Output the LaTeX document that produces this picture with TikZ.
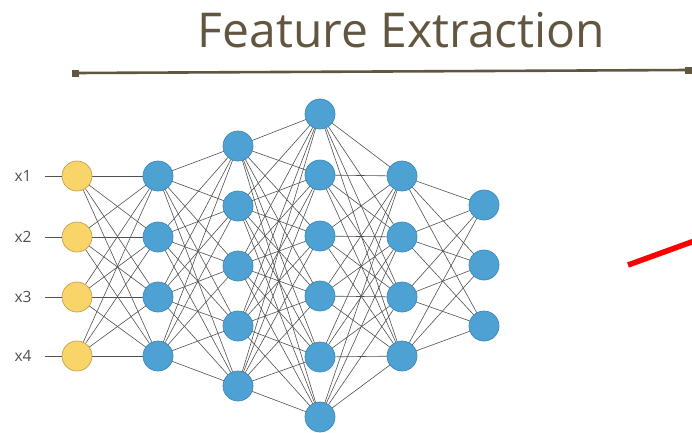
\documentclass[tikz,border=0pt]{standalone}
\usepackage{fontspec}
\setmainfont{Open Sans}
\usetikzlibrary{backgrounds}
\definecolor{titlebrown}{HTML}{625640}
\definecolor{inyellow}{HTML}{F9D468}
\definecolor{inyellowline}{HTML}{C4A152}
\definecolor{hidblue}{HTML}{4DA2D3}
\definecolor{hidblueline}{HTML}{3E8ABB}
\definecolor{edgegray}{HTML}{505050}
\definecolor{labelgray}{HTML}{505050}
\begin{document}
\begin{tikzpicture}[x=1pt,y=-1pt,
  neuron/.style={circle, minimum size=30pt, inner sep=0pt, line width=0.7pt},
  inneuron/.style={neuron, fill=inyellow, draw=inyellowline},
  hidneuron/.style={neuron, fill=hidblue, draw=hidblueline},
  edge/.style={draw=edgegray, line width=0.6pt},
  inlabel/.style={text=labelgray, font=\fontsize{15.5}{15.5}\selectfont, inner sep=0pt},
  endmark/.style={fill=titlebrown, minimum size=7pt, inner sep=0pt},
  bracket/.style={draw=titlebrown, line width=2.6pt}]
\useasboundingbox (0,0) rectangle (692,432);

% title and bracket
\node[anchor=base, text=titlebrown, font=\fontsize{48}{48}\selectfont, inner sep=0pt] (title) at (401.5,47) {Feature Extraction};
\node[endmark] (bl) at (75,73) {};
\node[endmark] (br) at (688,70) {};
\draw[bracket] (bl.center) -- (br.center);

% input layer
\foreach \y [count=\i] in {176,237,297,356}
  \node[inneuron] (n1-\i) at (77,\y) {};
% hidden and output layers
\foreach \y [count=\i] in {176,237,297,356}
  \node[hidneuron] (n2-\i) at (158,\y) {};
\foreach \y [count=\i] in {146,206,266,326,386}
  \node[hidneuron] (n3-\i) at (238,\y) {};
\foreach \y [count=\i] in {114,175,236,296,357,417}
  \node[hidneuron] (n4-\i) at (320,\y) {};
\foreach \y [count=\i] in {176,237,297,356}
  \node[hidneuron] (n5-\i) at (402,\y) {};
\foreach \y [count=\i] in {205,265,326}
  \node[hidneuron] (n6-\i) at (484,\y) {};

% input labels
\foreach \y [count=\i] in {176,237,297,356} {
  \node[inlabel] (x\i) at (23,\y) {x\i};
  \draw[edge] ([xshift=13pt]x\i.east) -- (n1-\i);
}

% fully connected edges behind the neurons
\begin{scope}[on background layer]
\foreach \a/\b/\na/\nb in {1/2/4/4, 2/3/4/5, 3/4/5/6, 4/5/6/4, 5/6/4/3}
  \foreach \i in {1,...,\na}
    \foreach \j in {1,...,\nb}
      \draw[edge] (n\a-\i.center) -- (n\b-\j.center);
\end{scope}

% red pointer stroke
\coordinate (r1) at (628,265);
\coordinate (r2) at (697,240);
\draw[red, line width=5.5pt] (r1) -- (r2);
\end{tikzpicture}
\end{document}
